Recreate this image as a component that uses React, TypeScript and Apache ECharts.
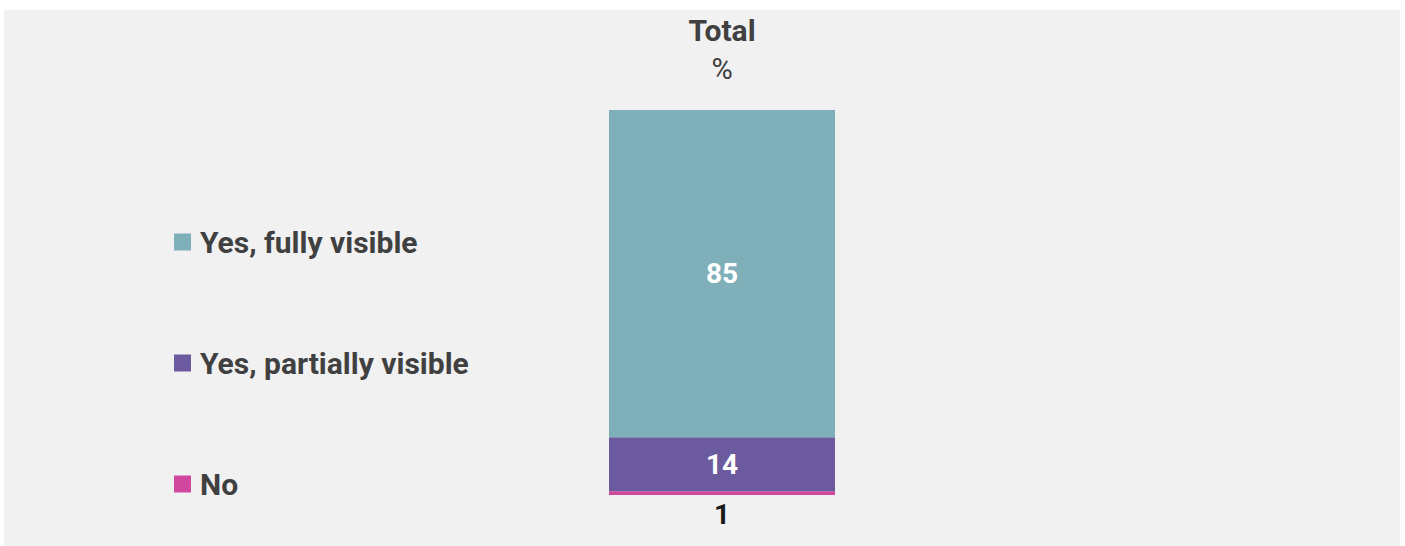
import React, { useEffect, useRef } from "react";
import * as echarts from "echarts";

const categories = ["Total"];
const seriesNames = ["No", "Yes, partially visible", "Yes, fully visible"];
const noValues = [1];
const partialValues = [14];
const fullValues = [85];
const legendOrder = ["Yes, fully visible", "Yes, partially visible", "No"];

const FONT = "Roboto, 'Noto Sans', sans-serif";

export default function App() {
  const ref = useRef<HTMLDivElement>(null);
  useEffect(() => {
    if (!ref.current) return;
    const chart = echarts.init(ref.current, undefined, { renderer: "svg" });
    chart.setOption({
      animation: false,
      backgroundColor: "transparent",
      textStyle: { fontFamily: FONT },
      title: {
        text: "Total",
        subtext: "%",
        left: 713,
        textAlign: "center",
        top: 0,
        itemGap: 9,
        textStyle: { fontFamily: FONT, fontSize: 30, fontWeight: "bold", color: "#404040" },
        subtextStyle: { fontFamily: FONT, fontSize: 29, color: "#404040" },
      },
      legend: {
        orient: "vertical",
        left: 170,
        top: 217,
        padding: 0,
        itemWidth: 17,
        itemHeight: 17,
        itemGap: 91,
        icon: "rect",
        data: legendOrder,
        textStyle: {
          fontFamily: FONT,
          fontSize: 30,
          fontWeight: "bold",
          color: "#404040",
          lineHeight: 30,
          padding: [0, 0, 0, 4],
        },
      },
      grid: { left: 605, top: 100, width: 226, height: 385, containLabel: false },
      xAxis: { type: "category", data: categories, show: false },
      yAxis: { type: "value", min: 0, max: 100, show: false },
      series: [
        {
          name: seriesNames[0],
          type: "bar",
          stack: "t",
          barWidth: "100%",
          data: noValues,
          itemStyle: { color: "#d2479e" },
          label: { show: true, position: "bottom", distance: 5, color: "#1a1a1a", fontSize: 28, fontWeight: "bold", fontFamily: FONT },
        },
        {
          name: seriesNames[1],
          type: "bar",
          stack: "t",
          barWidth: "100%",
          data: partialValues,
          itemStyle: { color: "#6b5b9e" },
          label: { show: true, position: "inside", color: "#ffffff", fontSize: 28, fontWeight: "bold", fontFamily: FONT },
        },
        {
          name: seriesNames[2],
          type: "bar",
          stack: "t",
          barWidth: "100%",
          data: fullValues,
          itemStyle: { color: "#7fb0ba" },
          label: { show: true, position: "inside", color: "#ffffff", fontSize: 28, fontWeight: "bold", fontFamily: FONT },
        },
      ],
    });
    return () => chart.dispose();
  }, []);
  return (
    <div style={{ position: "fixed", left: 0, top: 0, width: 1405, height: 546, background: "#ffffff" }}>
      <div style={{ position: "absolute", left: 4, top: 10, width: 1396, height: 536, background: "#f1f1f1" }}>
        <div ref={ref} style={{ width: 1396, height: 536 }} />
      </div>
    </div>
  );
}
